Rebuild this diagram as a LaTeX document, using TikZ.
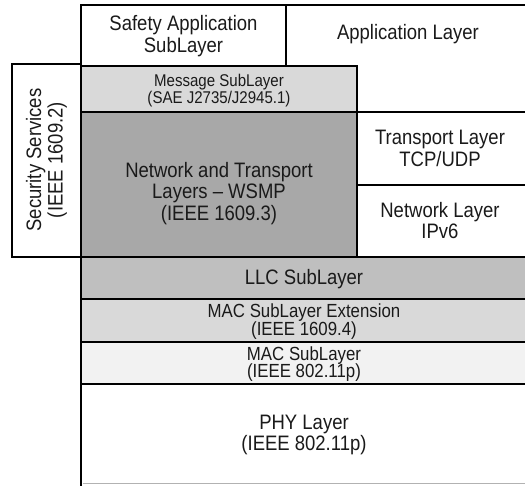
\documentclass[tikz,border=0pt]{standalone}
\usepackage{fontspec}
% Arial-like face, set a little narrower than its height
\setmainfont{Liberation Sans}[FakeStretch=0.885]
\definecolor{txt}{HTML}{1A1A1A}
\definecolor{msgfill}{HTML}{D9D9D9}
\definecolor{netfill}{HTML}{A8A8A8}
\definecolor{llcfill}{HTML}{BFBFBF}
\definecolor{macxfill}{HTML}{D9D9D9}
\definecolor{macfill}{HTML}{F2F2F2}
\begin{document}
\begin{tikzpicture}[x=1pt,y=-1pt,
  layerbox/.style={draw=black,line width=1.7pt},
  lbl/.style={align=center,text=txt,inner sep=0pt,font=\fontsize{20.9}{21.5}\selectfont},
  smalllbl/.style={lbl,font=\fontsize{17}{16.5}\selectfont},
  midlbl/.style={lbl,font=\fontsize{19}{17.8}\selectfont}]
\useasboundingbox (0,0) rectangle (525,486);
\begin{scope}
\clip (0,0) rectangle (525,486);
% upper stack
\draw[layerbox,fill=white] (81,5) rectangle (286,66);
\draw[layerbox,fill=white] (286,5) -- (528,5) -- (528,112) -- (357,112) -- (357,66) -- (286,66) -- cycle;
\draw[layerbox,fill=white] (12,64) rectangle (81,257);
\draw[layerbox,fill=msgfill] (81,66) rectangle (357,112);
\draw[layerbox,fill=netfill] (81,112) rectangle (357,257);
\draw[layerbox,fill=white] (357,112) rectangle (528,185);
\draw[layerbox,fill=white] (357,185) rectangle (528,257);
% lower stack
\draw[layerbox,fill=llcfill] (81,257) rectangle (528,299);
\draw[layerbox,fill=macxfill] (81,299) rectangle (528,342);
\draw[layerbox,fill=macfill] (81,342) rectangle (528,384);
\draw[layerbox,fill=white] (81,384) rectangle (528,492);
\draw[gray!60,line width=0.8pt] (83,483.5) -- (528,483.5);
\end{scope}
% labels
\node[lbl] (safety) at (183.5,36) {Safety Application\\SubLayer};
\node[lbl] (app) at (408,34.5) {Application Layer};
\node[lbl,rotate=90] (sec) at (46.5,160) {Security Services\\(IEEE 1609.2)};
\node[smalllbl] (msg) at (219,90.5) {Message SubLayer\\(SAE J2735/J2945.1)};
\node[lbl] (net) at (219,193.5) {Network and Transport\\Layers -- WSMP\\(IEEE 1609.3)};
\node[lbl] (tl) at (440,148.5) {Transport Layer\\TCP/UDP};
\node[lbl] (nl) at (440,220.5) {Network Layer\\IPv6};
\node[lbl] (llc) at (304,279) {LLC SubLayer};
\node[midlbl] (macx) at (304,321.5) {MAC SubLayer Extension\\(IEEE 1609.4)};
\node[midlbl] (mac) at (304,364) {MAC SubLayer\\(IEEE 802.11p)};
\node[lbl] (phy) at (304,435) {PHY Layer\\(IEEE 802.11p)};
\end{tikzpicture}
\end{document}
